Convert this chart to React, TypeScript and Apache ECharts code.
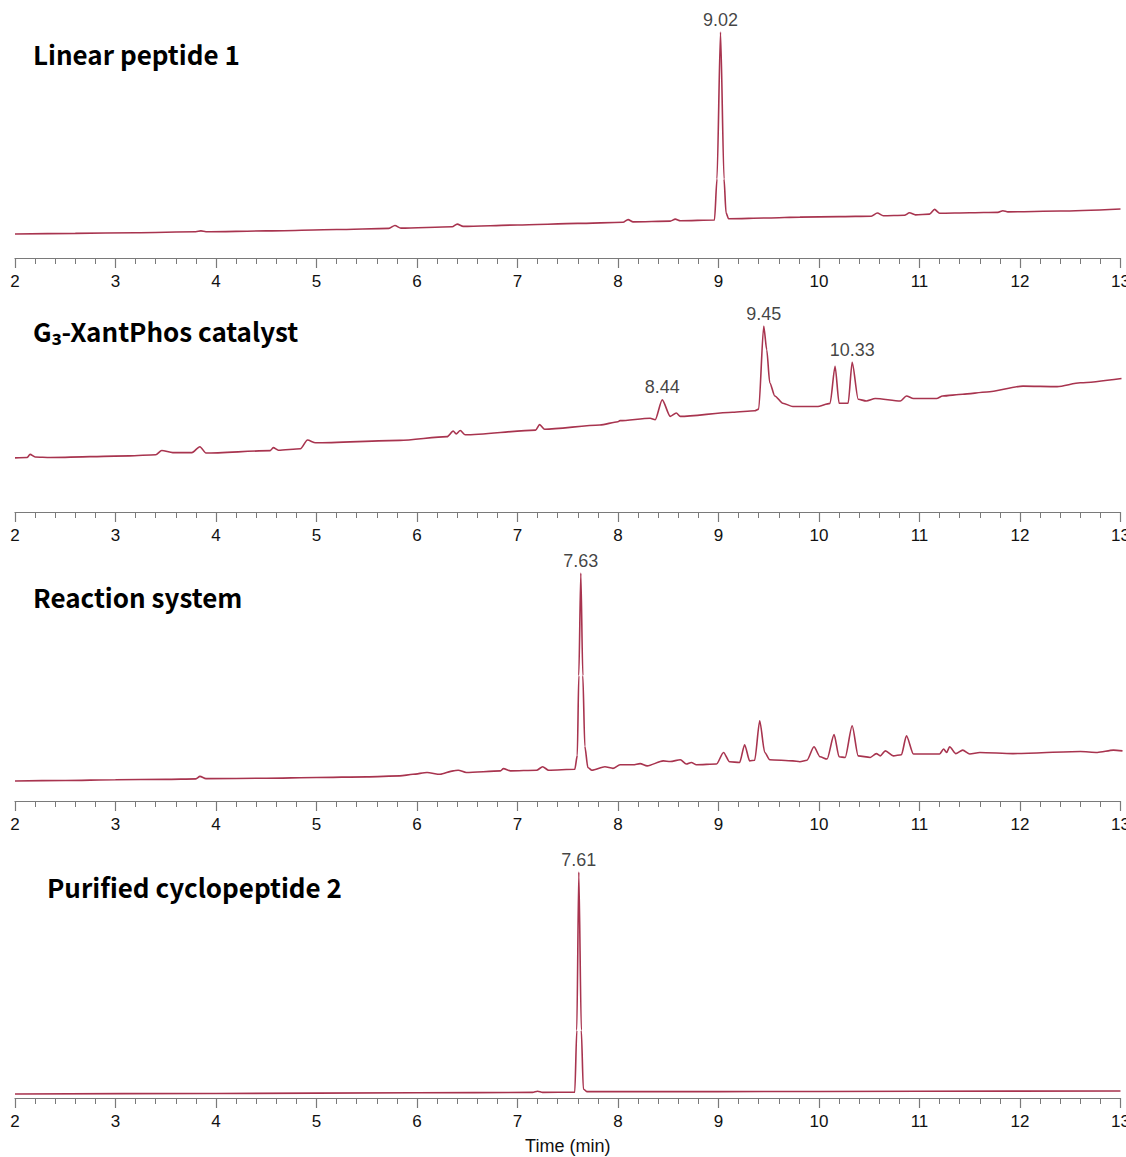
import React, { useEffect, useRef } from "react";
import * as echarts from "echarts";

// Chromatogram traces: [time (min), signal (relative units)]
const trace1: number[][] = [
  [2.0, 10.6], [2.6, 10.9], [3.2, 11.2], [3.8, 11.6], [3.85, 12.0], [3.9, 11.6], [4.5, 12.0],
  [5.2, 12.6], [5.72, 13.1], [5.78, 14.4], [5.84, 13.2], [6.35, 13.8], [6.4, 15.0], [6.46, 14.0],
  [7.0, 14.6], [7.6, 15.3], [8.05, 15.8], [8.1, 17.0], [8.15, 16.0], [8.52, 16.3], [8.57, 17.2],
  [8.62, 16.5], [8.96, 16.8], [8.985, 35], [9.02, 100], [9.055, 35], [9.075, 20], [9.1, 17.4],
  [9.5, 17.7], [9.81, 18.1], [10.2, 18.3], [10.52, 18.5], [10.58, 19.9], [10.64, 18.7],
  [10.85, 18.9], [10.9, 20.0], [10.96, 19.1], [11.1, 19.4], [11.15, 21.5], [11.2, 19.8],
  [11.5, 20.0], [11.78, 20.2], [11.83, 20.9], [11.88, 20.4], [12.4, 20.8], [13.0, 21.7],
];

const trace2: number[][] = [
  [2.0, 29.1], [2.12, 29.3], [2.15, 31.0], [2.2, 29.6], [2.35, 29.3], [3.14, 30.2], [3.4, 30.8],
  [3.46, 33.1], [3.57, 31.9], [3.76, 31.9], [3.84, 35.1], [3.9, 31.7], [4.54, 33.0], [4.57, 34.6],
  [4.62, 33.2], [4.84, 34.0], [4.91, 38.7], [4.99, 37.2], [5.83, 38.5], [6.3, 40.5], [6.36, 43.5],
  [6.39, 42.0], [6.43, 43.8], [6.48, 41.5], [7.18, 44.0], [7.22, 47.0], [7.27, 44.5], [7.82, 46.8],
  [8.0, 48.5], [8.02, 49.1], [8.32, 50.4], [8.37, 49.6], [8.44, 60.3], [8.52, 51.4], [8.58, 53.2],
  [8.62, 51.4], [9.14, 53.6], [9.36, 54.4], [9.4, 55.3], [9.45, 100], [9.48, 87.2], [9.51, 69.5],
  [9.56, 62.4], [9.64, 58.5], [9.74, 56.7], [9.98, 56.7], [10.11, 58.4], [10.16, 78.4], [10.2, 58.5],
  [10.29, 58.5], [10.33, 80.5], [10.39, 60.6], [10.47, 59.7], [10.56, 61.0], [10.81, 59.7],
  [10.87, 62.4], [10.94, 61.0], [11.17, 61.0], [11.23, 62.4], [11.43, 63.3], [11.67, 64.5],
  [12.03, 67.7], [12.37, 67.4], [12.6, 69.5], [13.01, 71.8],
];

const trace3: number[][] = [
  [2.0, 8.8], [2.5, 9.0], [3.0, 9.3], [3.5, 9.5], [3.8, 9.7], [3.84, 10.8], [3.9, 9.8], [4.5, 10.0],
  [5.0, 10.3], [5.5, 10.6], [5.83, 11.0], [5.96, 11.7], [6.1, 12.5], [6.23, 11.7], [6.36, 13.2],
  [6.41, 13.5], [6.49, 12.5], [6.83, 13.2], [6.86, 14.2], [6.93, 13.2], [7.19, 13.5], [7.25, 15.0],
  [7.31, 13.5], [7.57, 13.9], [7.595, 20], [7.61, 55], [7.63, 100], [7.65, 55], [7.67, 24],
  [7.7, 14.7], [7.74, 13.5], [7.87, 15.0], [7.95, 14.3], [8.02, 15.9], [8.15, 15.9], [8.22, 16.4],
  [8.29, 15.4], [8.45, 17.6], [8.52, 17.3], [8.62, 18.1], [8.68, 16.2], [8.73, 16.9], [8.78, 15.9],
  [8.98, 16.2], [9.05, 21.3], [9.11, 17.2], [9.21, 16.9], [9.26, 24.7], [9.31, 17.6], [9.36, 17.9],
  [9.41, 35.2], [9.46, 21.3], [9.51, 18.1], [9.74, 17.6], [9.81, 17.2], [9.88, 17.9], [9.95, 23.8],
  [10.01, 19.4], [10.08, 18.4], [10.15, 29.1], [10.2, 19.4], [10.26, 19.1], [10.33, 33.0],
  [10.39, 19.8], [10.51, 19.1], [10.57, 20.8], [10.61, 19.8], [10.66, 22.0], [10.74, 19.8],
  [10.82, 20.3], [10.87, 28.6], [10.94, 20.6], [11.2, 20.6], [11.24, 22.8], [11.27, 21.3],
  [11.3, 23.8], [11.36, 20.8], [11.43, 22.3], [11.5, 20.6], [11.6, 21.3], [11.93, 20.8],
  [12.6, 21.7], [12.77, 21.3], [12.93, 22.3], [13.02, 22.0],
];

const trace4: number[][] = [
  [2.0, 1.8], [4.0, 2.0], [6.0, 2.3], [7.15, 2.5], [7.2, 3.0], [7.25, 2.5], [7.57, 2.6],
  [7.59, 30], [7.61, 100], [7.635, 30], [7.655, 4.0], [7.69, 2.8], [9.0, 2.8], [11.0, 3.0], [13.0, 3.1],
];

// Annotated peaks: [retention time, apex signal]
const peaks1: number[][] = [[9.02, 100]];
const peaks2: number[][] = [[8.44, 60.3], [9.45, 100], [10.33, 80.5]];
const peaks3: number[][] = [[7.63, 100]];
const peaks4: number[][] = [[7.61, 100]];

const panelTitles: string[] = [
  "Linear peptide 1",
  "G\u2083-XantPhos catalyst",
  "Reaction system",
  "Purified cyclopeptide 2",
];

const xMin = 2;
const xMax = 13;
const xAxisName = "Time (min)";

const traces = [trace1, trace2, trace3, trace4];
const peaks = [peaks1, peaks2, peaks3, peaks4];

export default function App() {
  const ref = useRef<HTMLDivElement>(null);

  useEffect(() => {
    if (!ref.current) return;
    const chart = echarts.init(ref.current, undefined, { renderer: "svg" });

    const gridDefs = [
      { top: 32, height: 226 },
      { top: 326, height: 186 },
      { top: 573, height: 228 },
      { top: 872, height: 226 },
    ];
    const titlePos = [
      { left: 33, center: 53 },
      { left: 33, center: 330 },
      { left: 33, center: 596 },
      { left: 47, center: 886 },
    ];
    const axisColor = "#7a7a7a";
    const lineColor = "#a8344f";

    const option: any = {
      animation: false,
      backgroundColor: "#ffffff",
      title: panelTitles.map((t, i) => ({
        text: t,
        left: titlePos[i].left,
        top: titlePos[i].center - 15,
        padding: 0,
        textStyle: {
          fontFamily: '"Noto Sans CJK SC", "Noto Sans", sans-serif',
          fontWeight: "bold",
          fontSize: 26,
          lineHeight: 30,
          color: "#000",
        },
      })),
      grid: gridDefs.map((g) => ({
        left: 15,
        right: 5.5,
        top: g.top,
        height: g.height,
        containLabel: false,
        outerBoundsMode: "none",
      })),
      xAxis: gridDefs.map((_, i) => ({
        type: "value",
        gridIndex: i,
        min: xMin,
        max: xMax,
        interval: 1,
        name: i === 3 ? xAxisName : "",
        nameLocation: "middle",
        nameGap: 39,
        nameTextStyle: { fontFamily: "Liberation Sans, Arial, sans-serif", fontSize: 18, color: "#111" },
        axisLine: { show: true, onZero: false, lineStyle: { color: axisColor, width: 1.2 } },
        axisTick: { show: true, length: 10, lineStyle: { color: axisColor, width: 1.2 } },
        minorTick: { show: true, splitNumber: 5, length: 6, lineStyle: { color: axisColor, width: 1 } },
        splitLine: { show: false },
        minorSplitLine: { show: false },
        axisLabel: {
          show: true,
          margin: 15,
          fontSize: 17,
          color: "#111",
          fontFamily: "Liberation Sans, Arial, sans-serif",
          showMinLabel: true,
          showMaxLabel: true,
          hideOverlap: false,
        },
      })),
      yAxis: gridDefs.map((_, i) => ({
        type: "value",
        gridIndex: i,
        min: 0,
        max: 100,
        show: false,
        splitLine: { show: false },
      })),
      series: [
        ...traces.map((d, i) => ({
          type: "line",
          xAxisIndex: i,
          yAxisIndex: i,
          data: d,
          showSymbol: false,
          symbol: "none",
          smooth: 0.25,
          smoothMonotone: "x",
          lineStyle: { color: lineColor, width: 1.6 },
          silent: true,
          z: 2,
        })),
        ...peaks.map((d, i) => ({
          type: "scatter",
          xAxisIndex: i,
          yAxisIndex: i,
          data: d,
          symbolSize: 1,
          itemStyle: { color: "rgba(0,0,0,0)" },
          silent: true,
          z: 3,
          label: {
            show: true,
            position: "top",
            distance: 3,
            formatter: (p: any) => Number(p.value[0]).toFixed(2),
            fontSize: 18,
            color: "#111",
            fontFamily: "Liberation Sans, Arial, sans-serif",
          },
        })),
      ],
    };

    chart.setOption(option);
    return () => chart.dispose();
  }, []);

  return (
    <div
      ref={ref}
      style={{ position: "absolute", left: 0, top: 0, width: 1126, height: 1157, background: "#fff" }}
    />
  );
}
